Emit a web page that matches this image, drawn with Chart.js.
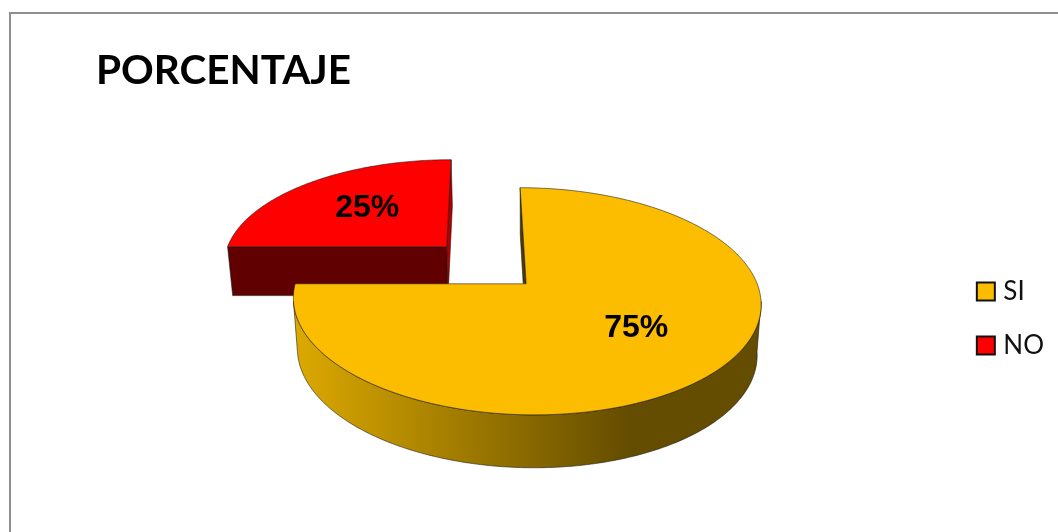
<!DOCTYPE html>
<html>
<head>
<meta charset="utf-8">
<title>PORCENTAJE</title>
<script src="https://cdn.jsdelivr.net/npm/chart.js@4/dist/chart.umd.min.js"></script>
<style>
  html,body{margin:0;padding:0;background:#fff;overflow:hidden;width:1058px;height:532px}
  #frame{position:absolute;left:9px;top:12px;width:1200px;height:700px;border:2px solid #8f8f8f;box-sizing:border-box}
  canvas{position:absolute;left:0;top:0;display:block}
</style>
</head>
<body>
<div id="frame"></div>
<canvas id="chart" width="1058" height="532"></canvas>
<script>
// ------ DATA ------
const categories = ['SI', 'NO'];
const percentages = [75, 25];
const sliceColors = ['#fcbd00', '#ff0000'];
const frontWallColors = ['#4f3c00', '#600000'];
const sideWallColors = ['#4f3c00', '#b00000'];

// pie plane -> screen, all as fractions of the radius
const TILT = 0.48;
const PERSP = 0.154;
const SHEAR = 0.03;
const DEPTH = 0.216;
const DEPTH_TILT = 0.013;
const BASE_SCALE = 0.983;

// small hand nudges for the percent labels, in px
const labelNudgeX = [2, 6];
const labelNudgeY = [-6, 1];

function pt(arc, a, f, low){
  const R = arc.outerRadius;
  const mid = (arc.startAngle + arc.endAngle) / 2;
  const off = arc.options.offset / R;
  const u = f * Math.cos(a) + off * Math.cos(mid);
  const v = f * Math.sin(a) + off * Math.sin(mid);
  const w = 1 - PERSP * v;
  let x = (u + SHEAR * v) * R / w;
  let y = TILT * v * R / w;
  if(low){
    x *= BASE_SCALE;
    y += R * (DEPTH + DEPTH_TILT * v);
  }
  return {x: arc.x + x, y: arc.y + y};
}

function rimPath(ctx, arc, from, to, low){
  const steps = Math.max(2, Math.ceil(Math.abs(to - from) / 0.015));
  for(let i = 0; i <= steps; i++){
    const p = pt(arc, from + (to - from) * i / steps, 1, low);
    ctx.lineTo(p.x, p.y);
  }
}

function outline(ctx){
  ctx.strokeStyle = 'rgba(20,20,20,0.7)';
  ctx.lineWidth = 0.8;
  ctx.stroke();
}

// outer rim of the slice, only the part facing the viewer
function drawSide(ctx, arc){
  const t = Math.asin(PERSP);
  const from = Math.max(arc.startAngle, t);
  const to = Math.min(arc.endAngle, Math.PI - t);
  if(to <= from) return;
  const grad = ctx.createLinearGradient(arc.x - arc.outerRadius, 0, arc.x + 0.45 * arc.outerRadius, 0);
  grad.addColorStop(0, '#dca900');
  grad.addColorStop(1, '#644c00');
  ctx.beginPath();
  rimPath(ctx, arc, from, to, false);
  rimPath(ctx, arc, to, from, true);
  ctx.closePath();
  ctx.fillStyle = grad;
  ctx.fill();
  outline(ctx);
}

// radial cut faces; normal says which way the face looks in the pie plane
function drawWall(ctx, arc, a, normal, front, side){
  const facing = Math.sin(normal);
  if(facing < -0.5) return;
  const isFront = facing > 0.5;
  ctx.save();
  if(!isFront){
    // sideways faces only show above the slice lying in front of them
    ctx.beginPath();
    ctx.rect(0, 0, ctx.canvas.width, arc.y);
    ctx.clip();
  }
  const a1 = pt(arc, a, 1, false), a0 = pt(arc, a, 0, false);
  const b0 = pt(arc, a, 0, true), b1 = pt(arc, a, 1, true);
  ctx.beginPath();
  ctx.moveTo(a1.x, a1.y);
  ctx.lineTo(a0.x, a0.y);
  ctx.lineTo(b0.x, b0.y);
  ctx.lineTo(b1.x, b1.y);
  ctx.closePath();
  ctx.fillStyle = isFront ? front : side;
  ctx.fill();
  outline(ctx);
  ctx.restore();
}

function drawTop(ctx, arc, color){
  const tip = pt(arc, arc.startAngle, 0, false);
  ctx.beginPath();
  ctx.moveTo(tip.x, tip.y);
  rimPath(ctx, arc, arc.startAngle, arc.endAngle, false);
  ctx.closePath();
  ctx.fillStyle = color;
  ctx.fill();
  outline(ctx);
}

const pie3d = {
  id: 'pie3d',
  afterLayout(chart){
    // legend sits lower than the middle of the plot
    chart.legend.top += 59;
    chart.legend.bottom += 59;
    chart.legend.left -= 3;
    chart.legend.right -= 3;
  },
  beforeDatasetsDraw(chart){
    const ctx = chart.ctx;
    const arcs = chart.getDatasetMeta(0).data;
    // back slice first
    for(let i = arcs.length - 1; i >= 0; i--){
      const arc = arcs[i];
      drawSide(ctx, arc);
      drawWall(ctx, arc, arc.startAngle, arc.startAngle - Math.PI / 2, frontWallColors[i], sideWallColors[i]);
      drawWall(ctx, arc, arc.endAngle, arc.endAngle + Math.PI / 2, frontWallColors[i], sideWallColors[i]);
      drawTop(ctx, arc, sliceColors[i]);
    }
    ctx.fillStyle = '#000';
    ctx.font = 'bold 32px "Liberation Sans"';
    ctx.textAlign = 'center';
    ctx.textBaseline = 'middle';
    arcs.forEach((arc, i) => {
      const p = pt(arc, (arc.startAngle + arc.endAngle) / 2, 0.6, false);
      ctx.fillText(percentages[i] + '%', p.x + labelNudgeX[i], p.y + labelNudgeY[i]);
    });
    return false;
  }
};

new Chart(document.getElementById('chart'), {
  type: 'pie',
  plugins: [pie3d],
  data: {
    labels: categories,
    datasets: [{
      data: percentages,
      backgroundColor: sliceColors,
      borderColor: '#111',
      borderWidth: 2,
      offset: [0, 115],
      radius: 231
    }]
  },
  options: {
    responsive: false,
    animation: false,
    layout: {padding: {top: 47, left: 96, right: 1, bottom: 60}},
    plugins: {
      tooltip: {enabled: false},
      title: {
        display: true,
        text: 'PORCENTAJE',
        align: 'start',
        color: '#000',
        padding: 0,
        font: {family: 'Lato', size: 40.5, weight: 'bold', lineHeight: 1.2}
      },
      legend: {
        position: 'right',
        maxWidth: 103,
        labels: {
          usePointStyle: true,
          pointStyle: 'rect',
          boxWidth: 9,
          boxHeight: 18,
          padding: 28,
          color: '#111',
          font: {family: 'Lato', size: 26, lineHeight: 1.2}
        }
      }
    }
  }
});
</script>
</body>
</html>
